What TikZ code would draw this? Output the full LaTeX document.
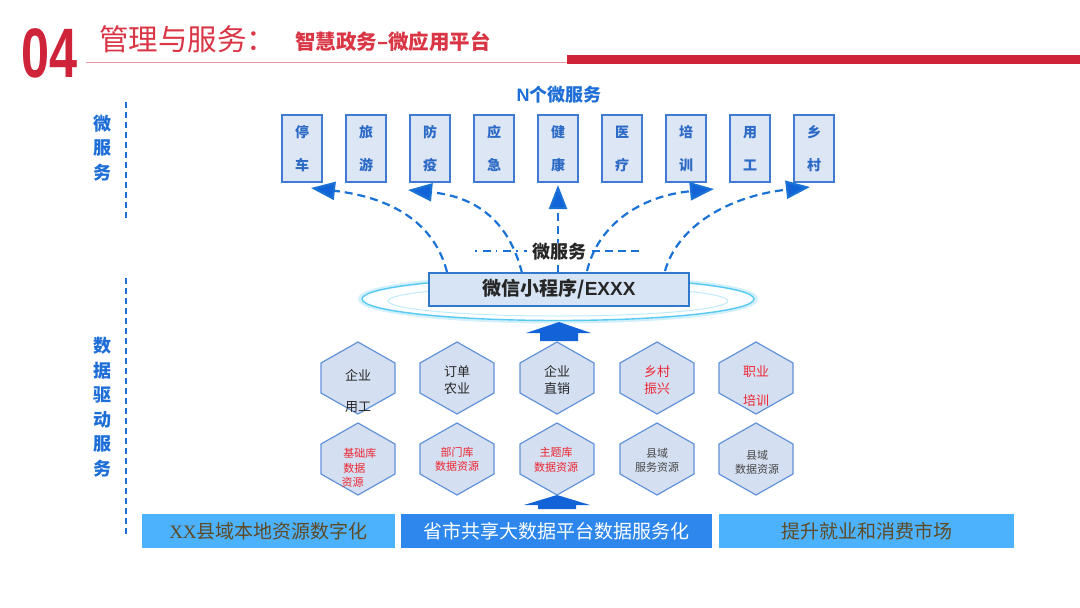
\documentclass[tikz,border=0pt]{standalone}
\usepackage{fontspec}
\setmainfont{Noto Sans CJK SC}
\newfontfamily\latinsans{Liberation Sans}
\newfontfamily\latinserif{Liberation Serif}
\usetikzlibrary{arrows.meta}
\definecolor{hred}{HTML}{CE2338}
\definecolor{tred}{HTML}{D93544}
\definecolor{lred}{HTML}{EC97A0}
\definecolor{nblue}{HTML}{1E6ED8}
\definecolor{boxfill}{HTML}{DCE6F5}
\definecolor{boxdraw}{HTML}{3F7BD4}
\definecolor{boxtext}{HTML}{2C6AC6}
\definecolor{hexfill}{HTML}{D4E0F2}
\definecolor{hexdraw}{HTML}{6192DA}
\definecolor{arrblue}{HTML}{1A72D6}
\definecolor{headblue}{HTML}{1262D8}
\definecolor{wxfill}{HTML}{D6E4F5}
\definecolor{wxdraw}{HTML}{2F78CC}
\definecolor{barlight}{HTML}{4DB2FD}
\definecolor{bardark}{HTML}{2D87EC}
\definecolor{brownt}{HTML}{5E4A25}
\definecolor{redt}{HTML}{EE2530}
\definecolor{darkt}{HTML}{262626}
\definecolor{glowrim}{HTML}{2FBDF0}
\definecolor{glowin}{HTML}{A6E3FA}
\pgfdeclareradialshading{glowshade}{\pgfpoint{0bp}{0bp}}{color(0bp)=(white); color(22bp)=(white); color(34bp)=(glowin!45); color(42bp)=(glowin!80); color(47bp)=(glowrim); color(50bp)=(glowin)}
\begin{document}
\begin{tikzpicture}[x=1pt,y=-1pt,
  svc/.style={draw=boxdraw, line width=1.1pt, fill=boxfill, minimum width=40pt, minimum height=67pt, inner sep=0pt, align=center, text=boxtext, font=\fontsize{14}{33}\selectfont\bfseries},
  side/.style={text=nblue, align=center, font=\fontsize{18}{24.5}\selectfont\bfseries},
  sidedash/.style={draw=nblue, line width=1.6pt, dash pattern=on 6pt off 4pt},
  flow/.style={draw=arrblue, line width=2.2pt, dash pattern=on 8pt off 5pt, -{Triangle[length=24pt,width=18pt,fill=headblue]}},
  hexs/.style={draw=hexdraw, line width=1.2pt, fill=hexfill},
  hext/.style={align=center, text=darkt, font=\fontsize{13}{17}\selectfont},
  hexr/.style={align=center, text=redt, font=\fontsize{13}{17}\selectfont},
  hexsm/.style={align=center, text=redt, font=\fontsize{11}{14.5}\selectfont},
  hexsg/.style={align=center, text=darkt!85, font=\fontsize{11}{14.5}\selectfont},
  bar/.style={minimum height=34pt, inner sep=0pt, font=\fontsize{19}{22}\selectfont}
]
\useasboundingbox (0,0) rectangle (1080,608);
\fill[white] (0,0) rectangle (1080,608);

% ---------- header ----------
\node[text=hred, inner sep=0pt] (num) at (50,53) {\scalebox{0.72}[1]{\latinsans\bfseries\fontsize{70}{70}\selectfont 04}};
\node[anchor=west, text=tred, inner sep=0pt, font=\fontsize{29.5}{31}\selectfont] (title) at (99,39) {管理与服务：};
\node[anchor=west, text=tred, inner sep=0pt, font=\fontsize{20.5}{22}\selectfont\bfseries] (subtitle) at (295,42) {智慧政务–微应用平台};
\draw[lred, line width=1.2pt] (86,62.5) -- (567,62.5);
\fill[hred] (567,55) rectangle (1080,64);

% ---------- side labels ----------
\node[side] (lab1) at (102,148) {微\\服\\务};
\node[side] (lab2) at (102,407) {数\\据\\驱\\动\\服\\务};
\coordinate (d1a) at (126,102); \coordinate (d1b) at (126,220);
\coordinate (d2a) at (126,278); \coordinate (d2b) at (126,534);
\draw[sidedash] (d1a) -- (d1b);
\draw[sidedash] (d2a) -- (d2b);

% ---------- top micro services ----------
\node[text=nblue, font=\fontsize{18}{20}\selectfont\bfseries] (ntitle) at (559,95) {{\latinsans N}个微服务};
\node[svc] (s1) at (302,148.5) {停\\车};
\node[svc] (s2) at (366,148.5) {旅\\游};
\node[svc] (s3) at (430,148.5) {防\\疫};
\node[svc] (s4) at (494,148.5) {应\\急};
\node[svc] (s5) at (558,148.5) {健\\康};
\node[svc] (s6) at (622,148.5) {医\\疗};
\node[svc] (s7) at (686,148.5) {培\\训};
\node[svc] (s8) at (750,148.5) {用\\工};
\node[svc] (s9) at (814,148.5) {乡\\村};

% ---------- glow ellipse & wechat box ----------
\draw[glowin, line width=4pt, opacity=0.5] (558,299) ellipse [x radius=198, y radius=22.5];
\shade[shading=glowshade] (558,299) ellipse [x radius=197, y radius=22];
\draw[glowrim, line width=1.4pt, opacity=0.8] (558,299) ellipse [x radius=196, y radius=21.5];
\draw[glowin, line width=1pt, opacity=0.7] (558,301) ellipse [x radius=170, y radius=15];

% arrows from wx box
\coordinate (a1) at (447,272); \coordinate (t1) at (311,188);
\coordinate (a2) at (522,273); \coordinate (t2) at (408,190);
\coordinate (a3) at (558,273); \coordinate (t3) at (558,185);
\coordinate (a4) at (587,271); \coordinate (t4) at (714,189);
\coordinate (a5) at (665,271); \coordinate (t5) at (810,187);
\coordinate (h1) at (475,251); \coordinate (h2) at (527,251);
\coordinate (h3) at (592,251); \coordinate (h4) at (643,251);
\draw[arrblue, line width=1.8pt, dash pattern=on 1.5pt off 6pt on 8pt off 5pt] (h1) -- (h2);
\draw[arrblue, line width=1.8pt, dash pattern=on 8pt off 5pt] (h3) -- (h4);
\draw[flow] (a3) -- (t3);
\node[fill=white, inner sep=0.5pt, text=darkt, font=\fontsize{18}{20}\selectfont\bfseries] (mlabel) at (559,252) {微服务};
\draw[flow] (a1) .. controls (435,225) and (395,198) .. (t1);
\draw[flow] (a2) .. controls (510,225) and (480,197) .. (t2);
\draw[flow] (a4) .. controls (598,225) and (640,196) .. (t4);
\draw[flow] (a5) .. controls (678,225) and (730,196) .. (t5);

\node[draw=wxdraw, line width=1.3pt, fill=wxfill, minimum width=260pt, minimum height=33pt, inner sep=0pt, text=darkt, font=\fontsize{19}{22}\selectfont\bfseries] (wx) at (559,289.5) {微信小程序/{\latinsans EXXX}};

% ---------- block arrows ----------
\fill[headblue] (559,322) -- (591,333) -- (578,333) -- (578,341) -- (540,341) -- (540,333) -- (526,333) -- cycle;
\fill[headblue] (557,495) -- (590,505) -- (576,505) -- (576,509) -- (538,509) -- (538,505) -- (524,505) -- cycle;

% ---------- hexagons ----------
\foreach \cx in {358,457,557,657,756}{
  \draw[hexs] (\cx,378) ++(0,-36) -- ++(37,21) -- ++(0,30) -- ++(-37,21) -- ++(-37,-21) -- ++(0,-30) -- cycle;
  \draw[hexs] (\cx,459) ++(0,-36) -- ++(37,21) -- ++(0,30) -- ++(-37,21) -- ++(-37,-21) -- ++(0,-30) -- cycle;
}
% top row texts
\node[hext] (p1a) at (358,375) {企业};
\node[hext] (p1b) at (358,407) {用工};
\node[hext] (p2) at (457,380.5) {订单\\农业};
\node[hext] (p3) at (557,380) {企业\\直销};
\node[hexr] (p4) at (657,380.5) {乡村\\振兴};
\node[hexr] (p5a) at (756,372) {职业};
\node[hexr] (p5b) at (756,401) {培训};
% bottom row texts
\node[hexsm, align=left, anchor=west] (q1) at (338,468) {\,基础库\\\,数据\\资源};
\node[hexsm] (q2) at (457,459.5) {部门库\\数据资源};
\node[hexsm] (q3) at (556,460) {主题库\\数据资源};
\node[hexsg] (q4) at (657,460.5) {县域\\服务资源};
\node[hexsg] (q5) at (757,462.5) {县域\\数据资源};

% ---------- bottom bars ----------
\node[bar, fill=barlight, minimum width=253pt, text=brownt] (bar1) at (268.5,531) {{\latinserif XX}县域本地资源数字化};
\node[bar, fill=bardark, minimum width=311pt, text=white] (bar2) at (556.5,531) {省市共享大数据平台数据服务化};
\node[bar, fill=barlight, minimum width=295pt, text=brownt] (bar3) at (866.5,531) {提升就业和消费市场};
\end{tikzpicture}
\end{document}
